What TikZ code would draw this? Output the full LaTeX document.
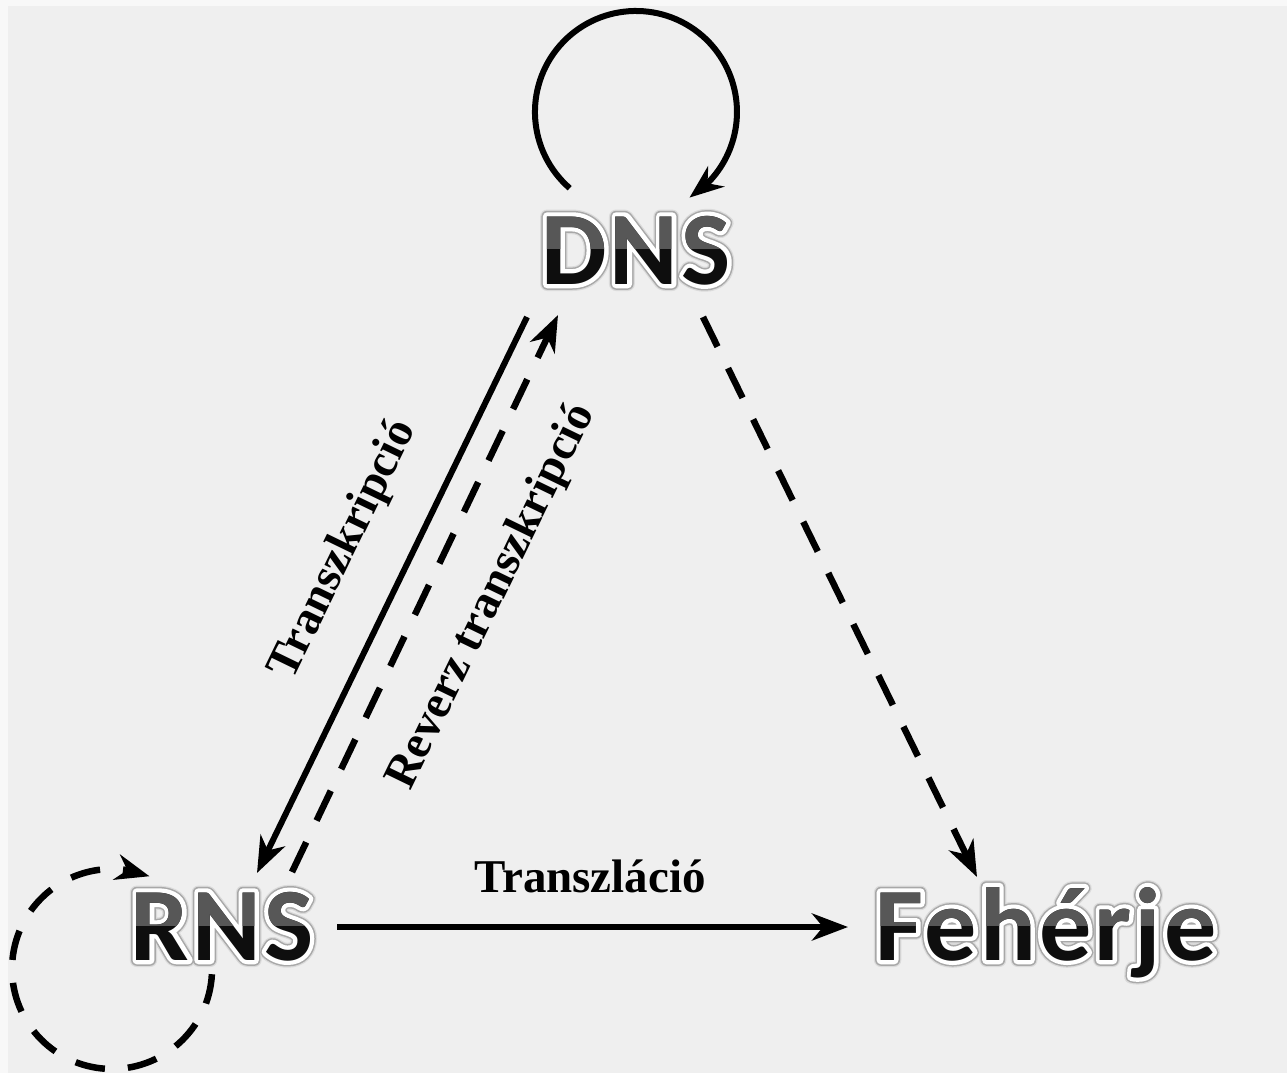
\documentclass[tikz,border=0pt]{standalone}
\usepackage{fontspec}
\usetikzlibrary{arrows.meta,calc,bending}
\newfontfamily\bigfont{Carlito}[BoldFont=* Bold, LetterSpace=3]
\newfontfamily\labfont{Liberation Serif}[BoldFont=* Bold]
\definecolor{bgouter}{HTML}{F8F8F8}
\definecolor{bginner}{HTML}{EFEFEF}
\definecolor{topgray}{HTML}{575757}
\definecolor{botblack}{HTML}{0E0E0E}
\tikzset{
  bw/.style={inner sep=0pt, anchor=base, font=\bigfont\bfseries\fontsize{104}{110}\selectfont},
  lab/.style={inner sep=0pt, font=\labfont\bfseries\fontsize{47}{50}\selectfont, text=black},
  conn/.style={line width=6pt, draw=black},
  dashconn/.style={conn, line width=6.5pt, dash pattern=on 33pt off 24pt},
  tip/.style={-{Stealth[length=36pt,width=27pt,inset=11pt]}},
  looptip/.style={-{Stealth[length=34pt,width=26pt,inset=11pt,flex]}}
}
% stroked text: #1 line width, #2 stroke gray level, #3 text
\newcommand\strk[3]{\special{pdf:literal direct 1 Tr #1 w 1 j #2 G}#3\special{pdf:literal direct 0 Tr}}
\newcommand\bigword[4]{%
  \node[bw, text=black!20] (#1halo) at (#2) {\strk{14}{0.86}{#4}};
  \node[bw, text=black!30] (#1glow) at (#2) {\strk{11.5}{0.66}{#4}};
  \node[bw, text=white] (#1edge) at (#2) {\strk{8.5}{1}{#4}};
  \node[bw, text=botblack] (#1) at (#2) {#4};
  \begin{scope}
    \clip (0,0) rectangle (1287,#3);
    \node[bw, text=topgray] (#1top) at (#2) {#4};
  \end{scope}
}
\begin{document}
\begin{tikzpicture}[x=1pt,y=-1pt]
\useasboundingbox (0,0) rectangle (1287,1073);
\fill[bgouter] (0,0) rectangle (1287,1073);
\fill[bginner] (8,6) rectangle (1287,1073);

\bigword{dns}{636,284}{248}{DNS}
\bigword{rns}{222,960}{925}{RNS}
\bigword{feh}{1046,960}{925}{Fehérje}

% DNS self loop
\draw[conn, looptip] ($(dns.base)+(-66.3,-95.8)$) arc[start angle=131, end angle=418, radius=101];

% RNS self loop (dashed)
\draw[dashconn, dash pattern=on 30pt off 23pt, looptip] ($(rns.base)+(-10.1,14.2)$) arc[start angle=3, end angle=292, radius=100];

% Transzkripcio
\draw[conn, tip] ($(dns.base)+(-109,33)$) -- ($(rns.base)+(35,-87)$);
% Reverz transzkripcio
\draw[dashconn, tip] ($(rns.base)+(70,-88)$) -- ($(dns.base)+(-78,31)$);
% DNS -> Feherje
\draw[dashconn, tip] ($(dns.base)+(67,33)$) -- ($(feh.base)+(-69,-83)$);
% Transzlacio
\draw[conn, tip] ($(rns.base)+(115,-33)$) -- ($(feh.base)+(-198,-33)$);

\node[lab, rotate=64.1] (ltr) at (344,550) {Transzkripció};
\node[lab, rotate=64.1] (lrev) at (492,597) {Reverz transzkripció};
\node[lab, anchor=base] (ltl) at (590,892) {Transzláció};
\end{tikzpicture}
\end{document}
